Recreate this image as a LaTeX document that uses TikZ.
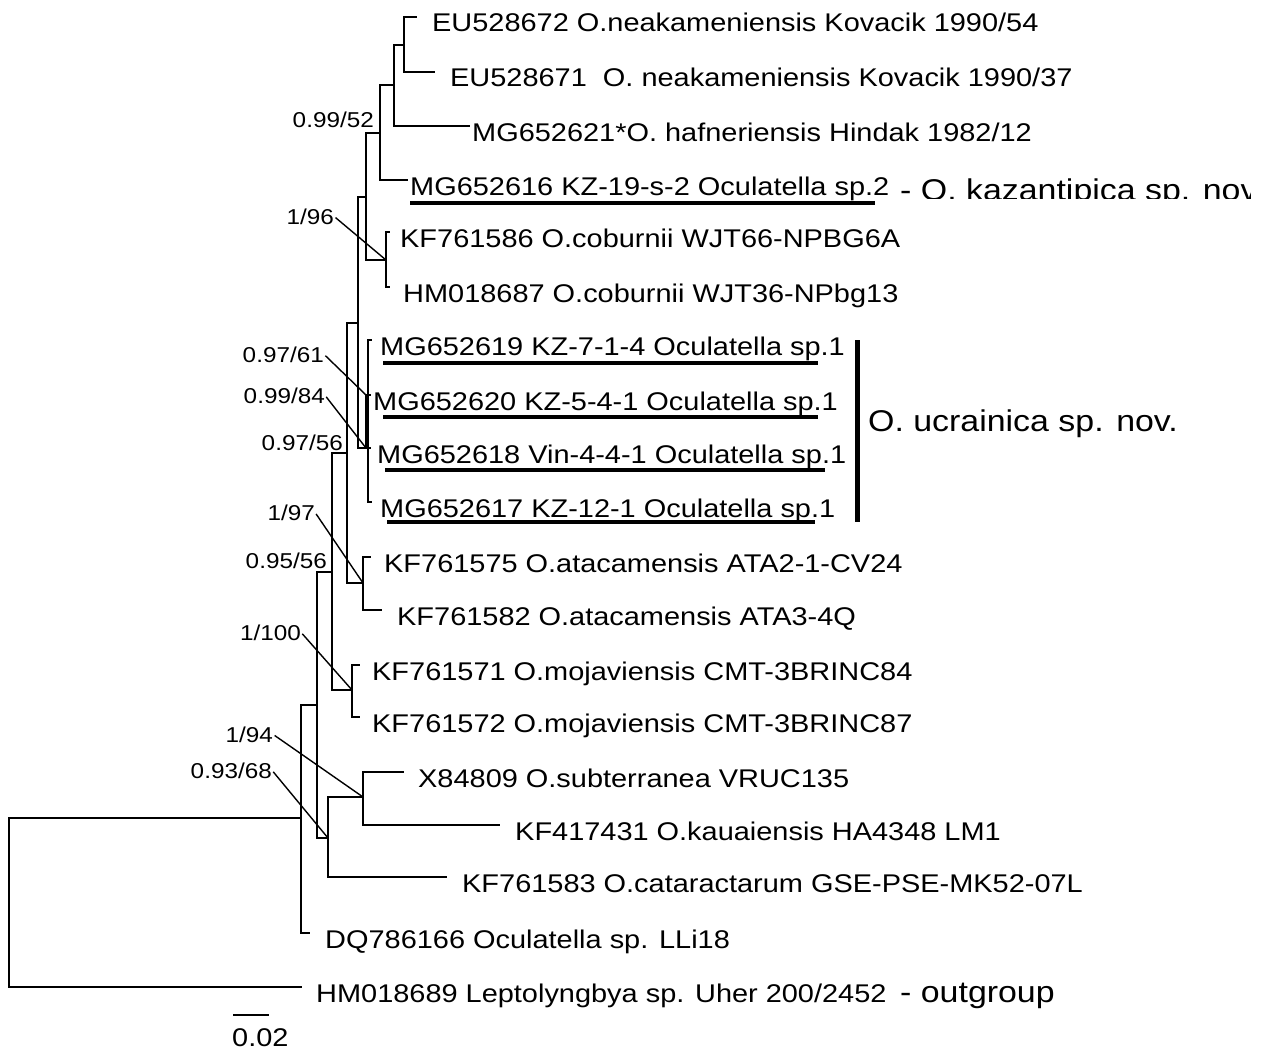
\documentclass[tikz,border=0pt]{standalone}
\usepackage{fontspec}
\setmainfont{Liberation Sans}[FakeStretch=1.13]
\setsansfont{Liberation Sans}[FakeStretch=1.13]
\usetikzlibrary{positioning,calc}

\begin{document}
\begin{tikzpicture}[x=1pt,y=-1pt,font=\sffamily,
    branch/.style={line width=1.8pt},
    leaf/.style={anchor=base west,inner sep=0pt,font=\sffamily\fontsize{25.6}{28}\selectfont},
    support/.style={anchor=base east,inner sep=0pt,font=\sffamily\fontsize{21.5}{24}\selectfont},
    leader/.style={line width=1.4pt,shorten <=2pt},
    markbar/.style={line width=4pt},
    cladename/.style={anchor=base west,inner sep=0pt,font=\sffamily\fontsize{30}{34}\selectfont}]
  \useasboundingbox (0,0) rectangle (1267,1049);

  % internal nodes
  \coordinate (nA) at (404,45);
  \coordinate (nB) at (394,85);
  \coordinate (nC) at (380,133);
  \coordinate (nCob) at (386,260);
  \coordinate (nD) at (366,197);
  \coordinate (nU2) at (366,395);
  \coordinate (nU) at (366,448);
  \coordinate (nV) at (368,421);
  \coordinate (nE) at (358,323);
  \coordinate (nAta) at (363,583);
  \coordinate (nF) at (347,453);
  \coordinate (nMoj) at (352,690);
  \coordinate (nG) at (332,572);
  \coordinate (nJ) at (363,797);
  \coordinate (nI) at (328,838);
  \coordinate (nH) at (317,705);
  \coordinate (nK) at (301,818);
  \coordinate (root) at (9,902);

  % tips
  \coordinate (e1) at (417,17);
  \coordinate (e2) at (435,72);
  \coordinate (e3) at (470,126);
  \coordinate (e4) at (408,180);
  \coordinate (e5) at (390,232);
  \coordinate (e6) at (390,287);
  \coordinate (e7) at (372,340);
  \coordinate (e8) at (371,395);
  \coordinate (e9) at (371,448);
  \coordinate (e10) at (372,502);
  \coordinate (e11) at (371,557);
  \coordinate (e12) at (382,610);
  \coordinate (e13) at (360,665);
  \coordinate (e14) at (360,717);
  \coordinate (e15) at (404,772);
  \coordinate (e16) at (500,825);
  \coordinate (e17) at (447,877);
  \coordinate (e18) at (310,933);
  \coordinate (e19) at (302,987);

  % taxa
  \node[leaf] (t1) at (432,32) {EU528672 O.neakameniensis Kovacik 1990/54};
  \node[leaf] (t2) at (450,87) {EU528671\ \ O. neakameniensis Kovacik 1990/37};
  \node[leaf] (t3) at (472,141) {MG652621*O. hafneriensis Hindak 1982/12};
  \node[leaf] (t4) at (410,195) {MG652616 KZ-19-s-2 Oculatella sp.2};
  \node[leaf] (t5) at (400,247) {KF761586 O.coburnii WJT66-NPBG6A};
  \node[leaf] (t6) at (403,302) {HM018687 O.coburnii WJT36-NPbg13};
  \node[leaf] (t7) at (380,355) {MG652619 KZ-7-1-4 Oculatella sp.1};
  \node[leaf] (t8) at (373,410) {MG652620 KZ-5-4-1 Oculatella sp.1};
  \node[leaf] (t9) at (377,463) {MG652618 Vin-4-4-1 Oculatella sp.1};
  \node[leaf] (t10) at (380,517) {MG652617 KZ-12-1 Oculatella sp.1};
  \node[leaf] (t11) at (384,572) {KF761575 O.atacamensis ATA2-1-CV24};
  \node[leaf] (t12) at (397,625) {KF761582 O.atacamensis ATA3-4Q};
  \node[leaf] (t13) at (372,680) {KF761571 O.mojaviensis CMT-3BRINC84};
  \node[leaf] (t14) at (372,732) {KF761572 O.mojaviensis CMT-3BRINC87};
  \node[leaf] (t15) at (418,787) {X84809 O.subterranea VRUC135};
  \node[leaf] (t16) at (515,840) {KF417431 O.kauaiensis HA4348 LM1};
  \node[leaf] (t17) at (462,892) {KF761583 O.cataractarum GSE-PSE-MK52-07L};
  \node[leaf] (t18) at (325,948) {DQ786166 Oculatella sp. LLi18};
  \node[leaf] (t19) at (316,1002) {HM018689 Leptolyngbya sp. Uher 200/2452};

  % branches
  \draw[branch] (nA) |- (e1) (nA) |- (e2);
  \draw[branch] (nB) |- (nA) (nB) |- (e3);
  \draw[branch] (nC) |- (nB) (nC) |- (e4);
  \draw[branch] (nCob) |- (e5) (nCob) |- (e6);
  \draw[branch] (nD) |- (nC) (nD) |- (nCob);
  \draw[branch] (nU) -- (nU2) -- (e8) (nU) -- (e9) (nU) -| (nV);
  \draw[branch] (nV) |- (e7) (nV) |- (e10);
  \draw[branch] (nE) |- (nD) (nE) |- (nU);
  \draw[branch] (nAta) |- (e11) (nAta) |- (e12);
  \draw[branch] (nF) |- (nE) (nF) |- (nAta);
  \draw[branch] (nMoj) |- (e13) (nMoj) |- (e14);
  \draw[branch] (nG) |- (nF) (nG) |- (nMoj);
  \draw[branch] (nJ) |- (e15) (nJ) |- (e16);
  \draw[branch] (nI) |- (nJ) (nI) |- (e17);
  \draw[branch] (nH) |- (nG) (nH) |- (nI);
  \draw[branch] (nK) |- (nH) (nK) |- (e18);
  \draw[branch] (root) |- (nK) (root) |- (e19);

  % support values
  \node[support] (s1) at (374,128) {0.99/52};
  \node[support] (s2) at (334,224) {1/96};
  \node[support] (s3) at (324,362) {0.97/61};
  \node[support] (s4) at (325,403) {0.99/84};
  \node[support] (s5) at (343,450) {0.97/56};
  \node[support] (s6) at (315,520) {1/97};
  \node[support] (s7) at (327,568) {0.95/56};
  \node[support] (s8) at (301,640) {1/100};
  \node[support] (s9) at (273,742) {1/94};
  \node[support] (s10) at (272,778) {0.93/68};
  \draw[leader] (s2.east) -- (nCob);
  \draw[leader] (s3.east) -- (nU2);
  \draw[leader] (s4.east) -- (nU);
  \draw[leader] (s6.east) -- (nAta);
  \draw[leader] (s8.east) -- (nMoj);
  \draw[leader] (s9.east) -- (nJ);
  \draw[leader] (s10.east) -- (nI);

  % new strains
  \draw[markbar] (410,203) -- (875,203);
  \draw[markbar] (383,363) -- (818,363);
  \draw[markbar] (383,417) -- (818,417);
  \draw[markbar] (385,470) -- (825,470);
  \draw[markbar] (387,522) -- (815,522);
  \draw[line width=5pt] (857,340) -- (857,522);
  \begin{scope}
    \clip (885,150) rectangle (1250,198);
    \node[cladename] (kaz) at (900,200) {- O. kazantipica sp. nov.};
  \end{scope}
  \node[cladename] (ucr) at (868,431) {O. ucrainica sp. nov.};
  \node[cladename] (og) at (900,1002) {- outgroup};

  % scale
  \draw[branch] (233,1015) -- (269,1015);
  \node[leaf] (sc) at (232,1046) {0.02};
\end{tikzpicture}
\end{document}
